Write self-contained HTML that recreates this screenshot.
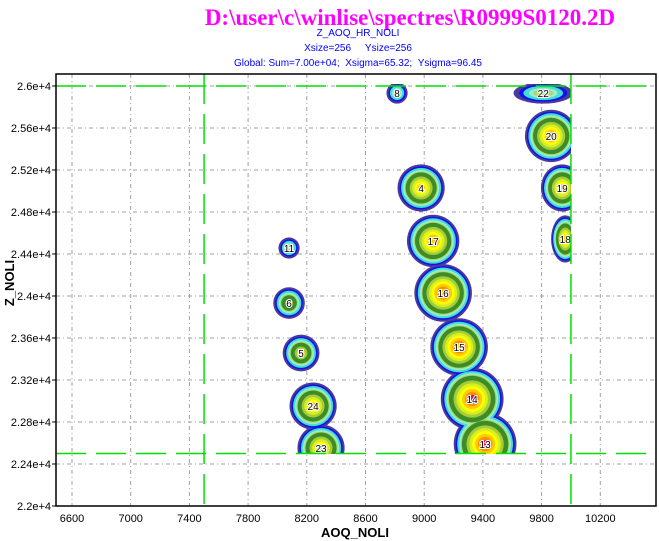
<!DOCTYPE html>
<html><head><meta charset="utf-8"><style>
body{margin:0;background:#fff;width:659px;height:541px;overflow:hidden}
svg{display:block}
</style></head><body>
<svg id="c" width="659" height="541">
<text x="410" y="25" text-anchor="middle" font-family="Liberation Serif,serif" font-weight="bold" font-size="23" fill="#ff00ff">D:\user\c\winlise\spectres\R0999S0120.2D</text>
<text x="358" y="36" text-anchor="middle" font-family="Liberation Sans,sans-serif" font-size="10" fill="#0000ff">Z_AOQ_HR_NOLI</text>
<text x="358" y="51" text-anchor="middle" font-family="Liberation Sans,sans-serif" font-size="10" fill="#0000ff">Xsize=256&#160;&#160;&#160;&#160;&#160;Ysize=256</text>
<text x="358" y="66" text-anchor="middle" font-family="Liberation Sans,sans-serif" font-size="10" fill="#0000ff">Global: Sum=7.00e+04;&#160;&#160;Xsigma=65.32;&#160;&#160;Ysigma=96.45</text>
<g id="grid"></g>
<g id="blobs" clip-path="url(#gate)"></g>
<g id="labels"></g>
<g id="gates"></g>
<rect x="56" y="74" width="600" height="432" fill="none" stroke="#000" stroke-width="1.5"/>
<g id="ticks"></g>
<text x="355" y="537" text-anchor="middle" font-family="Liberation Sans,sans-serif" font-weight="bold" font-size="13">AOQ_NOLI</text>
<text transform="translate(14,283) rotate(-90)" text-anchor="middle" font-family="Liberation Sans,sans-serif" font-weight="bold" font-size="13">Z_NOLI</text>
<defs><clipPath id="gate"><rect x="56" y="84" width="515" height="370"/></clipPath></defs>
</svg>
<script>
const xTicks=[6600,7000,7400,7800,8200,8600,9000,9400,9800,10200];
const yTicks=[22000,22400,22800,23200,23600,24000,24400,24800,25200,25600,26000];
const yTickLabels=["2.2e+4","2.24e+4","2.28e+4","2.32e+4","2.36e+4","2.4e+4","2.44e+4","2.48e+4","2.52e+4","2.56e+4","2.6e+4"];
const peakIds=["8","22","20","19","18","4","17","16","15","14","13","11","6","5","24","23"];
const peakAoq=[8815,9811,9865,9940,9961,8979,9061,9129,9238,9327,9415,8079,8079,8161,8243,8297];
const peakZ=[25933,25933,25524,25029,24543,25029,24524,24029,23514,23019,22590,24457,23933,23457,22952,22552];
const peakAmp=[1,1,7,6,6,6,7,8,8,9,9,1,3,4,6,6];
const peakStretch=[1,2.8,1,0.9,0.6,1,1,1,1,1,1,1,1,1,1,1];
const gateX=[7500,10000];
const gateY=[22500,26000];

const X=v=>72+(v-6600)*0.14675;
const Y=v=>506-(v-22000)*0.105;
const NS="http://www.w3.org/2000/svg";
function mk(tag,parent,attrs){const e=document.createElementNS(NS,tag);for(const k in attrs)e.setAttribute(k,attrs[k]);parent.appendChild(e);return e;}
const grid=document.getElementById('grid'),ticks=document.getElementById('ticks');
xTicks.forEach((v,i)=>{
  const l=mk('line',grid,{x1:X(v),x2:X(v),y1:74,y2:506,stroke:'#a0a0a0','stroke-dasharray':'4,3,1,3','stroke-width':1});
  
  
  const t=mk('text',ticks,{x:X(v),y:522,'text-anchor':'middle','font-family':'Liberation Sans,sans-serif','font-size':11});
  t.textContent=v;
  
  
});
yTicks.forEach((v,i)=>{
  const l=mk('line',grid,{x1:56,x2:656,y1:Y(v),y2:Y(v),stroke:'#a0a0a0','stroke-dasharray':'4,3,1,3','stroke-width':1});
  
  
  const tk=mk('line',ticks,{x1:52,x2:56,y1:Y(v),y2:Y(v),stroke:'#000'});
  
  
  const t=mk('text',ticks,{x:51,y:Y(v)+4,'text-anchor':'end','font-family':'Liberation Sans,sans-serif','font-size':11});
  t.textContent=yTickLabels[i];
  
  
});
const outerColors=['#4a3a9a','#1010f0','#40e0d0','#a0e8d8'];
const outerOff=[0,2,3.5,5.5];
const innerColors=['#a8dc60','#3c8c28','#a8cc38','#d4f020','#ffff00','#ffc800','#ff9000','#ff0066'];
const blobs=document.getElementById('blobs');
const layerSpecs=[];
peakIds.forEach((id,i)=>{
  const amp=peakAmp[i];const R=8+amp*2.6;
  const specs=[];
  outerOff.forEach((o,k)=>specs.push({r:R-o,c:outerColors[k]}));
  const nIn=Math.min(innerColors.length,amp);
  const r0=R-7;
  for(let j=0;j<nIn;j++){
    let c=innerColors[j];
    if(j===nIn-1&&amp<9&&j>=6)c=innerColors[5];
    specs.push({r:j===1?r0*(1-0.4/(nIn+0.5)):r0*(1-j/(nIn+0.5)),c});
  }
  layerSpecs.push(specs);
});
for(let k=0;k<14;k++){
  peakIds.forEach((id,i)=>{
    const s=layerSpecs[i][k];if(!s||s.r<=0)return;
    const e=mk('ellipse',blobs,{cx:X(peakAoq[i]),cy:Y(peakZ[i]),rx:s.r*peakStretch[i],ry:s.r,fill:s.c});
    
    
  });
}
const labels=document.getElementById('labels');
peakIds.forEach((id,i)=>{
  const t=mk('text',labels,{x:X(peakAoq[i]),y:Y(peakZ[i])+4,'text-anchor':'middle','font-family':'Liberation Sans,sans-serif','font-size':10,fill:'#000',stroke:'#fff','stroke-width':2,'paint-order':'stroke'});
  t.textContent=id;
  
  
});
const gates=document.getElementById('gates');
gateX.forEach(v=>{
  const l=mk('line',gates,{x1:X(v),x2:X(v),y1:74,y2:506,stroke:'#00e000','stroke-width':1.5,'stroke-dasharray':'30,10'});
  
  
});
gateY.forEach(v=>{
  const l=mk('line',gates,{x1:56,x2:656,y1:Y(v),y2:Y(v),stroke:'#00e000','stroke-width':1.5,'stroke-dasharray':'30,10'});
  
  
});
</script>
</body></html>
